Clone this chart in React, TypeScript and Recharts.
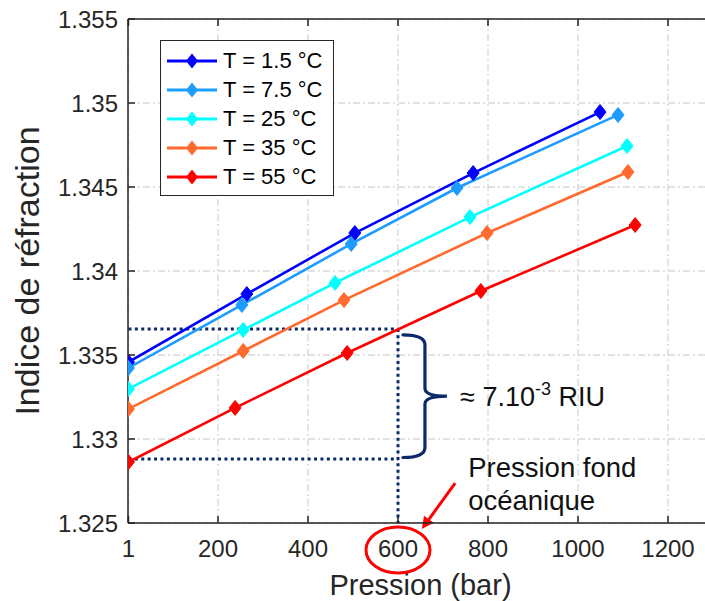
import React from 'react';
import {
  LineChart,
  Line,
  XAxis,
  YAxis,
  CartesianGrid,
  Legend,
  ReferenceLine,
  ReferenceDot,
} from 'recharts';

const FONT = '"Liberation Sans", Arial, Helvetica, sans-serif';
const AXIS_COLOR = '#262626';
const NAVY = '#0A2A6C';

// ---- data ----
const seriesNames = ['T = 1.5 °C', 'T = 7.5 °C', 'T = 25 °C', 'T = 35 °C', 'T = 55 °C'];
const seriesColors = ['#0000FF', '#1C9CFF', '#00FFFF', '#FF6A2E', '#FF0000'];

const pressureT15 = [1, 264, 504, 767, 1049];
const indexT15 = [1.33458, 1.33863, 1.34226, 1.34583, 1.34946];

const pressureT75 = [1, 253, 496, 731, 1089];
const indexT75 = [1.33423, 1.33798, 1.34161, 1.34494, 1.34929];

const pressureT25 = [1, 256, 460, 760, 1109];
const indexT25 = [1.33298, 1.33649, 1.33929, 1.34321, 1.34744];

const pressureT35 = [1, 256, 480, 798, 1111];
const indexT35 = [1.33179, 1.33524, 1.33827, 1.34226, 1.34589];

const pressureT55 = [1, 238, 487, 784, 1127];
const indexT55 = [1.32863, 1.33185, 1.33512, 1.33881, 1.34274];

const xTicks = [1, 200, 400, 600, 800, 1000, 1200];
const xDomain = [0, 1300];
const yTicks = [1.325, 1.33, 1.335, 1.34, 1.345, 1.35, 1.355];
const yTickLabels = ['1.325', '1.33', '1.335', '1.34', '1.345', '1.35', '1.355'];
const yDomain = [1.325, 1.355];

const oceanPressure = 600;
const levelHigh = 1.33655;
const levelLow = 1.32881;
const braceX = 611;
const braceTop = 1.3362;
const braceBottom = 1.3289;
const riuLabelPos = { x: 738, y: 1.33196 };
const oceanLabelPos = { x: 756, y: 1.32774 };
const arrowStart = { x: 727, y: 1.32738 };
const arrowEnd = { x: 653, y: 1.32464 };

const toPoints = (p: number[], n: number[]) => p.map((v, i) => ({ p: v, n: n[i] }));
const series = [
  toPoints(pressureT15, indexT15),
  toPoints(pressureT75, indexT75),
  toPoints(pressureT25, indexT25),
  toPoints(pressureT35, indexT35),
  toPoints(pressureT55, indexT55),
];

const TICK_LEN = 7;
const X_TICK_MARGIN = 17;
const Y_TICK_MARGIN = 10;

// ---- renderers ----
const makeDiamond = (color: string) => (props: any) => {
  const { cx, cy, index } = props;
  if (cx == null || cy == null) return <g key={index} />;
  return (
    <path
      key={index}
      d={`M${cx},${cy - 7.5} L${cx + 6},${cy} L${cx},${cy + 7.5} L${cx - 6},${cy} Z`}
      fill={color}
      stroke={color}
      strokeWidth={1}
    />
  );
};

const XTick = (props: any) => {
  const { x, y, payload } = props;
  const axisY = y - X_TICK_MARGIN;
  return (
    <g>
      <line x1={x} x2={x} y1={axisY} y2={axisY - TICK_LEN} stroke={AXIS_COLOR} strokeWidth={1.5} />
      <text
        x={x}
        y={y}
        dy="0.71em"
        textAnchor="middle"
        fontFamily={FONT}
        fontSize={24}
        fill={AXIS_COLOR}
      >
        {payload.value}
      </text>
      {payload.value === oceanPressure && (
        <ellipse cx={x} cy={y + 10} rx={32} ry={23} fill="none" stroke="#FF0000" strokeWidth={3} />
      )}
    </g>
  );
};

const TopTick = (props: any) => {
  const { x, y } = props;
  return <line x1={x} x2={x} y1={y} y2={y + TICK_LEN} stroke={AXIS_COLOR} strokeWidth={1.5} />;
};

const YTick = (props: any) => {
  const { x, y, payload } = props;
  const i = yTicks.findIndex((t) => Math.abs(t - payload.value) < 1e-9);
  const axisX = x + Y_TICK_MARGIN;
  return (
    <g>
      <line x1={axisX} x2={axisX + TICK_LEN} y1={y} y2={y} stroke={AXIS_COLOR} strokeWidth={1.5} />
      <text
        x={x}
        y={y}
        dy="0.355em"
        textAnchor="end"
        fontFamily={FONT}
        fontSize={24}
        fill={AXIS_COLOR}
      >
        {i >= 0 ? yTickLabels[i] : String(payload.value)}
      </text>
    </g>
  );
};

const yLabel = (props: any) => {
  const vb = props.viewBox || { x: 0, y: 19, width: 128, height: 504 };
  const cx = vb.x + 27;
  const cy = vb.y + vb.height / 2;
  return (
    <text
      x={cx}
      y={cy}
      transform={`rotate(-90, ${cx}, ${cy})`}
      textAnchor="middle"
      dominantBaseline="central"
      fontFamily={FONT}
      fontSize={34}
      fill={AXIS_COLOR}
    >
      Indice de réfraction
    </text>
  );
};

const xLabel = (props: any) => {
  const vb = props.viewBox || { x: 128, y: 523, width: 585, height: 78 };
  return (
    <text
      x={vb.x + vb.width / 2}
      y={vb.y + 72}
      textAnchor="middle"
      fontFamily={FONT}
      fontSize={29}
      fill={AXIS_COLOR}
    >
      Pression (bar)
    </text>
  );
};

const braceShape = (props: any) => {
  const { x1, y1, y2 } = props;
  const x = x1;
  const yT = Math.min(y1, y2);
  const yB = Math.max(y1, y2);
  const yM = (yT + yB) / 2;
  const d = [
    `M${x},${yT}`,
    `Q${x + 22},${yT} ${x + 22},${yT + 10}`,
    `L${x + 22},${yM - 8}`,
    `Q${x + 22},${yM} ${x + 44},${yM}`,
    `Q${x + 22},${yM} ${x + 22},${yM + 8}`,
    `L${x + 22},${yB - 10}`,
    `Q${x + 22},${yB} ${x},${yB}`,
  ].join(' ');
  return <path d={d} fill="none" stroke={NAVY} strokeWidth={3.2} strokeLinecap="round" />;
};

const arrowShape = (props: any) => {
  const { x1, y1, x2, y2 } = props;
  const dx = x2 - x1;
  const dy = y2 - y1;
  const len = Math.sqrt(dx * dx + dy * dy) || 1;
  const ux = dx / len;
  const uy = dy / len;
  const hl = 12;
  const hw = 6;
  const bx = x2 - ux * hl;
  const by = y2 - uy * hl;
  const px = -uy;
  const py = ux;
  return (
    <g>
      <line x1={x1} y1={y1} x2={bx} y2={by} stroke="#FF0000" strokeWidth={3} />
      <path
        d={`M${x2},${y2} L${bx + px * hw},${by + py * hw} L${bx - px * hw},${by - py * hw} Z`}
        fill="#FF0000"
      />
    </g>
  );
};

const riuShape = (props: any) => {
  const { cx, cy } = props;
  return (
    <text x={cx} y={cy} fontFamily={FONT} fontSize={27} fill="#111">
      ≈ 7.10
      <tspan dy={-11} fontSize={18}>
        -3
      </tspan>
      <tspan dy={11}> RIU</tspan>
    </text>
  );
};

const oceanShape = (props: any) => {
  const { cx, cy } = props;
  return (
    <text x={cx} y={cy} fontFamily={FONT} fontSize={27.5} fill="#111">
      <tspan x={cx}>Pression fond</tspan>
      <tspan x={cx} dy={33}>
        océanique
      </tspan>
    </text>
  );
};

const LegendBox = (props: any) => {
  const payload = [...(props.payload || [])].sort(
    (a: any, b: any) => seriesNames.indexOf(a.value) - seriesNames.indexOf(b.value)
  );
  return (
    <div
      style={{
        display: 'inline-block',
        border: `1.5px solid ${AXIS_COLOR}`,
        background: '#fff',
        padding: '5px 10px 4px 5px',
        fontFamily: FONT,
        fontSize: 22,
        color: '#000',
        lineHeight: 1,
      }}
    >
      {payload.map((e: any, i: number) => (
        <div key={i} style={{ display: 'flex', alignItems: 'center', height: 29 }}>
          <svg width={52} height={18} style={{ display: 'block' }}>
            <line x1={1} x2={51} y1={9} y2={9} stroke={e.color} strokeWidth={3} />
            <path d="M26,1.5 L32,9 L26,16.5 L20,9 Z" fill={e.color} />
          </svg>
          <span style={{ marginLeft: 5, whiteSpace: 'nowrap' }}>{e.value}</span>
        </div>
      ))}
    </div>
  );
};

export default function App() {
  return (
    <div
      style={{
        position: 'absolute',
        left: 0,
        top: 0,
        width: 705,
        height: 601,
        overflow: 'hidden',
        background: '#fff',
      }}
    >
      <LineChart width={713} height={601} margin={{ top: 0, right: 0, bottom: 0, left: 0 }}>
        <CartesianGrid stroke="#d9d9d9" strokeWidth={1.4} strokeDasharray="7 3 2 3" />
        <XAxis
          xAxisId={0}
          type="number"
          dataKey="p"
          domain={xDomain}
          ticks={xTicks}
          interval={0}
          allowDataOverflow
          height={78}
          axisLine={{ stroke: AXIS_COLOR, strokeWidth: 1.5 }}
          tickLine={false}
          tickSize={0}
          tickMargin={X_TICK_MARGIN}
          tick={<XTick />}
          label={xLabel}
        />
        <XAxis
          xAxisId="top"
          orientation="top"
          type="number"
          dataKey="p"
          domain={xDomain}
          ticks={xTicks}
          interval={0}
          allowDataOverflow
          height={19}
          axisLine={{ stroke: AXIS_COLOR, strokeWidth: 1.5 }}
          tickLine={false}
          tickSize={0}
          tickMargin={0}
          tick={<TopTick />}
        />
        <YAxis
          type="number"
          domain={yDomain}
          ticks={yTicks}
          interval={0}
          allowDataOverflow
          width={128}
          axisLine={{ stroke: AXIS_COLOR, strokeWidth: 1.5 }}
          tickLine={false}
          tickSize={0}
          tickMargin={Y_TICK_MARGIN}
          tick={<YTick />}
          label={yLabel}
        />

        <ReferenceLine
          segment={[
            { x: xTicks[0], y: levelHigh },
            { x: oceanPressure, y: levelHigh },
          ]}
          stroke={NAVY}
          strokeWidth={3}
          strokeDasharray="3 3.4"
          ifOverflow="visible"
        />
        <ReferenceLine
          segment={[
            { x: xTicks[0], y: levelLow },
            { x: oceanPressure, y: levelLow },
          ]}
          stroke={NAVY}
          strokeWidth={3}
          strokeDasharray="3 3.4"
          ifOverflow="visible"
        />
        <ReferenceLine
          segment={[
            { x: oceanPressure, y: levelHigh },
            { x: oceanPressure, y: yDomain[0] },
          ]}
          stroke={NAVY}
          strokeWidth={3}
          strokeDasharray="3 3.4"
          ifOverflow="visible"
        />

        {series.map((data, i) => (
          <Line
            key={seriesNames[i]}
            data={data}
            dataKey="n"
            name={seriesNames[i]}
            type="linear"
            stroke={seriesColors[i]}
            strokeWidth={2.6}
            dot={makeDiamond(seriesColors[i])}
            activeDot={false}
            isAnimationActive={false}
          />
        ))}

        <ReferenceLine
          segment={[
            { x: braceX, y: braceTop },
            { x: braceX, y: braceBottom },
          ]}
          ifOverflow="visible"
          shape={braceShape}
        />
        <ReferenceDot x={riuLabelPos.x} y={riuLabelPos.y} r={0} ifOverflow="visible" shape={riuShape} />
        <ReferenceDot x={oceanLabelPos.x} y={oceanLabelPos.y} r={0} ifOverflow="visible" shape={oceanShape} />
        <ReferenceLine
          segment={[
            { x: arrowStart.x, y: arrowStart.y },
            { x: arrowEnd.x, y: arrowEnd.y },
          ]}
          ifOverflow="visible"
          shape={arrowShape}
        />

        <Legend
          layout="horizontal"
          verticalAlign="middle"
          align="center"
          itemSorter={null as any}
          content={<LegendBox />}
          wrapperStyle={{ left: 160, top: 40, width: 'auto' }}
        />
      </LineChart>
    </div>
  );
}
